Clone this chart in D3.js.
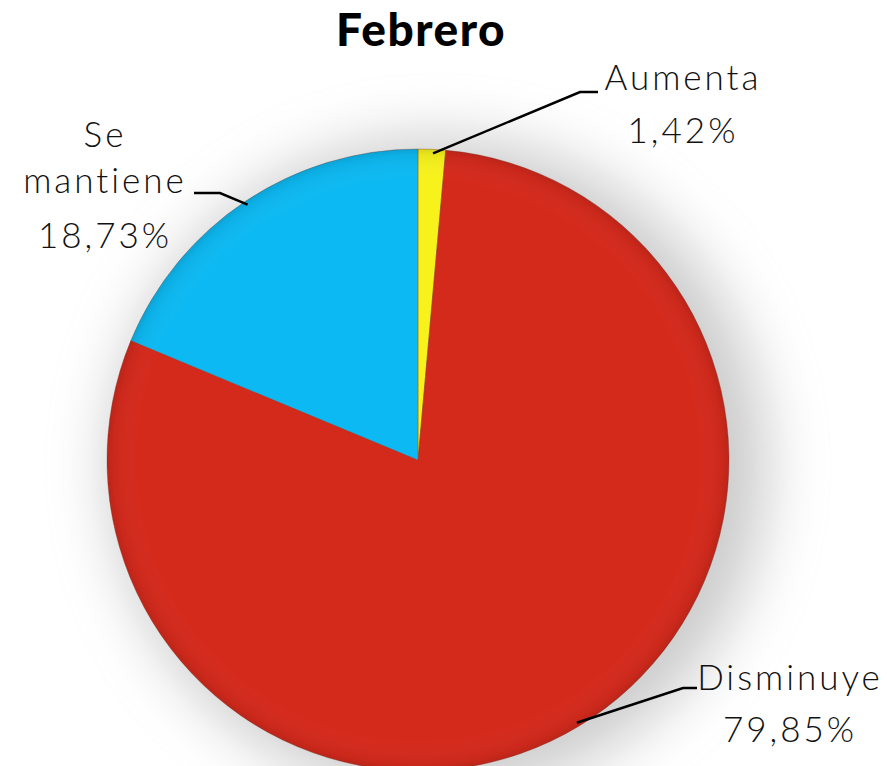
<!DOCTYPE html>
<html><head><meta charset="utf-8">
<script src="https://cdn.jsdelivr.net/npm/d3@7"></script>
<style>html,body{margin:0;padding:0;background:#fff;overflow:hidden}</style>
</head><body>
<svg id="chart" width="887" height="766"></svg>
<script>
const categories = ["Aumenta", "Disminuye", "Se mantiene"];
const values = [1.42, 79.85, 18.73];
const valueLabels = ["1,42%", "79,85%", "18,73%"];
const colors = ["#F7F21C", "#D42A1C", "#0DB9F2"];
const title = "Febrero";

const svg = d3.select("#chart");
const W = 887, H = 766;
const cx = 418, cy = 460, R = 311;

const defs = svg.append("defs");
const blur = defs.append("filter").attr("id","shadow").attr("x","-50%").attr("y","-50%").attr("width","200%").attr("height","200%");
blur.append("feGaussianBlur").attr("stdDeviation", 30);
const rg = defs.append("radialGradient").attr("id","shade").attr("cx","50%").attr("cy","50%").attr("r","50%");
rg.append("stop").attr("offset","0%").attr("stop-color","#fff").attr("stop-opacity",0);
rg.append("stop").attr("offset","90%").attr("stop-color","#fff").attr("stop-opacity",0);
rg.append("stop").attr("offset","98%").attr("stop-color","#000").attr("stop-opacity",0.05);
rg.append("stop").attr("offset","100%").attr("stop-color","#000").attr("stop-opacity",0.12);

svg.append("rect").attr("width",W).attr("height",H).attr("fill","#fff");

svg.append("circle").attr("cx",cx+20).attr("cy",cy+6).attr("r",R+18)
  .attr("fill","#999").attr("opacity",0.5).attr("filter","url(#shadow)");

const pie = d3.pie().sort(null).value(d => d);
const arcs = pie(values);
const arc = d3.arc().innerRadius(0).outerRadius(R);

const g = svg.append("g").attr("transform",`translate(${cx},${cy})`);
g.selectAll("path.slice").data(arcs).join("path").attr("class","slice")
  .attr("d", arc).attr("fill",(d,i)=>colors[i])
  .attr("stroke","#7a3a30").attr("stroke-opacity",0.35).attr("stroke-width",1);
g.append("circle").attr("r",R).attr("fill","url(#shade)");

svg.append("text").attr("x",421).attr("y",46).attr("text-anchor","middle")
  .attr("font-family","Lato, 'Open Sans', sans-serif").attr("font-weight",900)
  .attr("font-size",46).attr("letter-spacing",1.5).attr("fill","#000").text(title);

const font = "Lato, 'Noto Sans', sans-serif";
const labelStyle = sel => sel.attr("font-family",font).attr("font-size",35)
  .attr("font-weight",300).attr("fill","#111").attr("letter-spacing",3).attr("text-anchor","middle");

const labelDefs = [
  {lines:["Aumenta", valueLabels[0]], x:683, ys:[90,143], leader:[[580,92],[598,92]], frac:0.55},
  {lines:["Disminuye", valueLabels[1]], x:790, ys:[690,742], leader:[[683,688],[697,688]], frac:0.5},
  {lines:["Se","mantiene", valueLabels[2]], x:105, ys:[147,193,248], leader:[[220,193],[194,193]], frac:0.5}
];

labelDefs.forEach((L,i) => {
  const t = svg.append("text").call(labelStyle);
  L.lines.forEach((ln,j)=> t.append("tspan").attr("x",L.x).attr("y",L.ys[j]).text(ln));
  const a = arcs[i];
  const ang = a.startAngle + (a.endAngle - a.startAngle) * L.frac;
  const p0 = [cx + Math.sin(ang)*(R-4), cy - Math.cos(ang)*(R-4)];
  const pts = [p0, L.leader[0], L.leader[1]];
  svg.append("path").attr("d", d3.line()(pts)).attr("fill","none")
    .attr("stroke","#000").attr("stroke-width",2.5);
});
</script>
</body></html>
